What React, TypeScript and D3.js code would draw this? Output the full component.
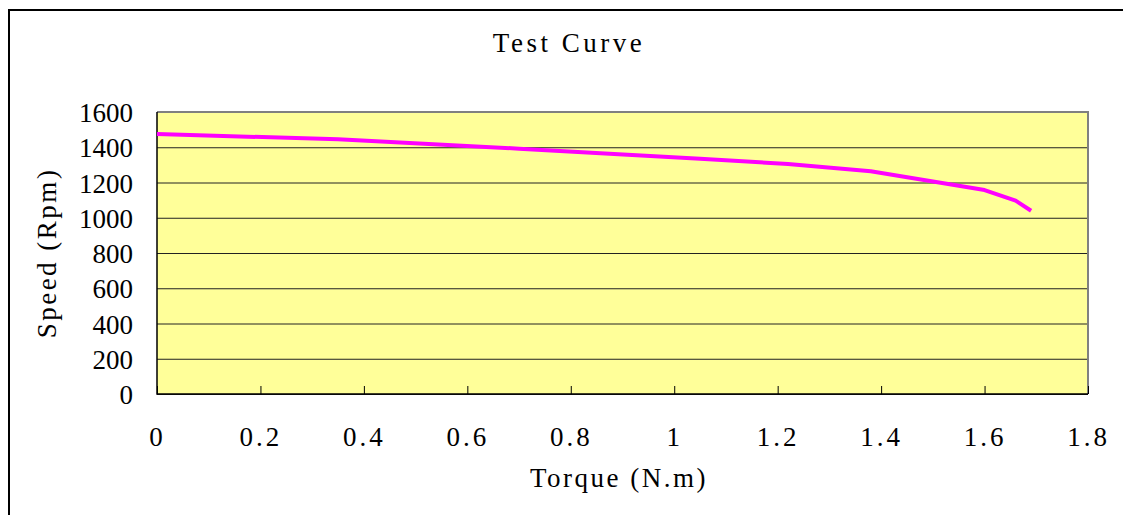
import React, { useEffect, useRef } from "react";
import * as d3 from "d3";

// torque (N.m) vs speed (rpm)
const torque = [0, 0.35, 0.7, 1.05, 1.22, 1.38, 1.6, 1.66, 1.69];
const speed = [1475, 1445, 1392, 1335, 1305, 1264, 1157, 1097, 1040];

const xTicks = [0, 0.2, 0.4, 0.6, 0.8, 1, 1.2, 1.4, 1.6, 1.8];
const yTicks = [0, 200, 400, 600, 800, 1000, 1200, 1400, 1600];

const title = "Test Curve";
const xTitle = "Torque (N.m)";
const yTitle = "Speed (Rpm)";

const serif = "'Liberation Serif', 'DejaVu Serif', serif";

export default function App({
  width = 1123,
  height = 515,
  marginTop = 112,
  marginRight = 35,
  marginBottom = 121,
  marginLeft = 157,
}) {
  const gx = useRef<SVGGElement>(null);
  const gy = useRef<SVGGElement>(null);

  const x = d3.scaleLinear([0, 1.8], [marginLeft, width - marginRight]);
  const y = d3.scaleLinear([0, 1600], [height - marginBottom, marginTop]);

  const line = d3
    .line<number>()
    .x((d, i) => x(torque[i]))
    .y((d) => y(d));

  useEffect(() => {
    // bottom axis: inside ticks, labels well below
    const axisBottom = d3
      .axisBottom(x)
      .tickValues(xTicks)
      .tickSize(-8)
      .tickPadding(33)
      .tickFormat((d) => String(d));
    const sx = d3.select(gx.current!).call(axisBottom);
    sx.attr("font-family", serif).attr("font-size", 27);
    sx.select(".domain").remove();
    sx.selectAll(".tick line").attr("stroke", "#000");
    sx.selectAll(".tick text")
      .attr("fill", "#000")
      .attr("letter-spacing", 3);

    // left axis: gridlines across the plot
    const axisLeft = d3
      .axisLeft(y)
      .tickValues(yTicks)
      .tickSize(0)
      .tickPadding(24)
      .tickFormat((d) => String(d));
    const sy = d3.select(gy.current!).call(axisLeft);
    sy.attr("font-family", serif).attr("font-size", 27);
    sy.select(".domain").remove();
    sy.selectAll(".tick line")
      .attr("x1", 0)
      .attr("x2", width - marginLeft - marginRight)
      .attr("stroke", "#222")
      .attr("stroke-width", 1);
    sy.selectAll(".tick text")
      .attr("fill", "#000")
      .attr("dy", "0.36em");
  }, []);

  const plotW = width - marginLeft - marginRight;
  const plotH = height - marginTop - marginBottom;

  return (
    <svg
      width={width}
      height={height}
      style={{ position: "absolute", left: 0, top: 0, background: "#fff" }}
    >
      <rect x={9} y={10} width={width + 20} height={height + 20} fill="#fff" stroke="#000" strokeWidth={2} />
      <text x={569} y={52} textAnchor="middle" fontFamily={serif} fontSize={27} letterSpacing={3.5}>
        {title}
      </text>

      <rect x={marginLeft} y={marginTop} width={plotW} height={plotH} fill="#FFFF99" />
      <g ref={gy} transform={`translate(${marginLeft},0)`} />
      {/* gray frame top/right, black axes left/bottom */}
      <path
        d={`M${marginLeft},${marginTop}H${width - marginRight}V${height - marginBottom}`}
        fill="none"
        stroke="#808080"
        strokeWidth={2}
      />
      <path
        d={`M${marginLeft},${marginTop}V${height - marginBottom}H${width - marginRight}`}
        fill="none"
        stroke="#000"
        strokeWidth={1.5}
      />
      <g ref={gx} transform={`translate(0,${height - marginBottom})`} />

      <path
        d={line(speed) || ""}
        fill="none"
        stroke="#FF00FF"
        strokeWidth={4}
        strokeLinejoin="round"
      />

      <text x={619} y={487} textAnchor="middle" fontFamily={serif} fontSize={27} letterSpacing={2.5}>
        {xTitle}
      </text>
      <text
        transform={`translate(56,${(marginTop + height - marginBottom) / 2}) rotate(-90)`}
        textAnchor="middle"
        fontFamily={serif}
        fontSize={27}
        letterSpacing={2.5}
      >
        {yTitle}
      </text>
    </svg>
  );
}
